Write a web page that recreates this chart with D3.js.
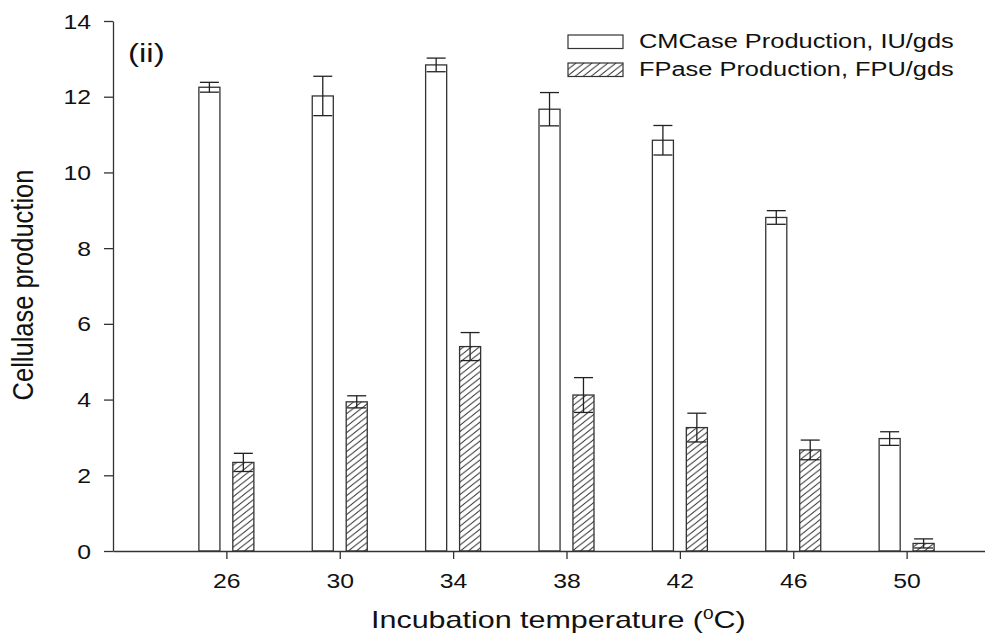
<!DOCTYPE html>
<html>
<head>
<meta charset="utf-8">
<script src="https://cdn.jsdelivr.net/npm/d3@7"></script>
<style>
  body { margin: 0; background: #fff; }
  svg text { font-family: "Liberation Sans", Arial, sans-serif; fill: #111; }
</style>
</head>
<body>
<svg id="chart" width="985" height="633"></svg>
<script>
// data
var temps = [26, 30, 34, 38, 42, 46, 50];
var cmcase = [12.25, 12.02, 12.84, 11.67, 10.85, 8.81, 2.97];
var cmcaseErr = [0.13, 0.52, 0.18, 0.44, 0.39, 0.18, 0.18];
var fpase = [2.34, 3.94, 5.40, 4.12, 3.26, 2.67, 0.20];
var fpaseErr = [0.24, 0.16, 0.37, 0.46, 0.38, 0.26, 0.12];
var seriesNames = ["CMCase Production, IU/gds", "FPase Production, FPU/gds"];
var yTicks = [0, 2, 4, 6, 8, 10, 12, 14];

// the source picture is stretched sideways, so text is too
var sx = 1.27;
var lineCol = "#333";

var svg = d3.select("#chart");

var x = d3.scaleLinear().domain([22, 54]).range([113, 1020]);
var y = d3.scaleLinear().domain([0, 14]).range([551, 21]);
// offset of each series inside a temperature group
var sub = d3.scaleBand().domain(["cm", "fp"]).range([-27.5, 27.5]).paddingInner(0.38);

// hatch pattern for FPase bars
var hw = 8, hh = 6.3;
svg.append("defs").append("pattern")
  .attr("id", "hatch").attr("patternUnits", "userSpaceOnUse")
  .attr("width", hw).attr("height", hh)
  .append("path")
  .attr("d", "M-2," + (2 * hh / hw) + "L2," + (-2 * hh / hw) +
    "M0," + hh + "L" + hw + ",0" +
    "M" + (hw - 2) + "," + (hh + 2 * hh / hw) + "L" + (hw + 2) + "," + (hh - 2 * hh / hw))
  .attr("stroke", "#3a3a3a").attr("stroke-width", 1).attr("fill", "none");

// rows for drawing
var rows = temps.map(function(t, i) {
  return [
    { key: "cm", t: t, v: cmcase[i], e: cmcaseErr[i] },
    { key: "fp", t: t, v: fpase[i], e: fpaseErr[i] }
  ];
});
var flat = [].concat.apply([], rows);

// bars
svg.append("g").attr("class", "bars")
  .selectAll("rect").data(flat).enter().append("rect")
  .attr("x", function(d) { return x(d.t) + sub(d.key); })
  .attr("y", function(d) { return y(d.v); })
  .attr("width", sub.bandwidth())
  .attr("height", function(d) { return y(0) - y(d.v); })
  .attr("fill", function(d) { return d.key == "fp" ? "url(#hatch)" : "#fff"; })
  .attr("stroke", lineCol).attr("stroke-width", 1.3);

// error bars
var capW = 19;
var eb = svg.append("g").attr("class", "errbars")
  .selectAll("g").data(flat).enter().append("g")
  .attr("stroke", "#222").attr("stroke-width", 1.3);
eb.append("line")
  .attr("x1", function(d) { return x(d.t) + sub(d.key) + sub.bandwidth() / 2; })
  .attr("x2", function(d) { return x(d.t) + sub(d.key) + sub.bandwidth() / 2; })
  .attr("y1", function(d) { return y(d.v - d.e); })
  .attr("y2", function(d) { return y(d.v + d.e); });
[1, -1].forEach(function(s) {
  eb.append("line")
    .attr("x1", function(d) { return x(d.t) + sub(d.key) + sub.bandwidth() / 2 - capW / 2; })
    .attr("x2", function(d) { return x(d.t) + sub(d.key) + sub.bandwidth() / 2 + capW / 2; })
    .attr("y1", function(d) { return y(d.v + s * d.e); })
    .attr("y2", function(d) { return y(d.v + s * d.e); });
});

// axes
var yAxis = svg.append("g").attr("transform", "translate(113,0)")
  .call(d3.axisLeft(y).tickValues(yTicks).tickSize(9).tickPadding(0).tickSizeOuter(0));
var xAxis = svg.append("g").attr("transform", "translate(0,551)")
  .call(d3.axisBottom(x).tickValues(temps).tickSize(8).tickSizeOuter(0));
[yAxis, xAxis].forEach(function(a) {
  a.select(".domain").attr("stroke", lineCol).attr("stroke-width", 1.3);
  a.selectAll(".tick line").attr("stroke", lineCol).attr("stroke-width", 1.3);
  a.selectAll("text").style("font-size", "19.5px").attr("fill", "#111")
    .style("font-family", "Liberation Sans, Arial, sans-serif");
});
yAxis.selectAll(".tick text").attr("x", -22 / sx).attr("dy", "0.36em")
  .attr("transform", "scale(" + sx + ",1)");
xAxis.selectAll(".tick text").attr("y", 0).attr("dy", 0)
  .attr("transform", "translate(0,37) scale(" + sx + ",1)");

// stretched text helper
function label(txt, px, py, size, anchor, rot, k) {
  return svg.append("text")
    .attr("transform", "translate(" + px + "," + py + ") scale(" + (k || sx) + ",1)" + (rot ? " rotate(" + rot + ")" : ""))
    .attr("text-anchor", anchor || "start")
    .style("font-size", size + "px")
    .text(txt);
}

var xt = label("Incubation temperature (", 371, 628, 24);
xt.append("tspan").attr("baseline-shift", "super").style("font-size", "15px").text("0");
xt.append("tspan").text("C)");

label("Cellulase production", 33, 285, 25.5, "middle", -90, 1.13);
label("(ii)", 128, 62, 26);

// legend
var leg = svg.append("g").selectAll("g").data(seriesNames).enter().append("g")
  .attr("transform", function(d, i) { return "translate(568," + (35 + i * 28) + ")"; });
leg.append("rect").attr("width", 55).attr("height", 13.5)
  .attr("fill", function(d, i) { return i ? "url(#hatch)" : "#fff"; })
  .attr("stroke", lineCol).attr("stroke-width", 1.2);
seriesNames.forEach(function(n, i) {
  label(n, 639, 47.5 + i * 28.3, 20);
});
</script>
</body>
</html>
